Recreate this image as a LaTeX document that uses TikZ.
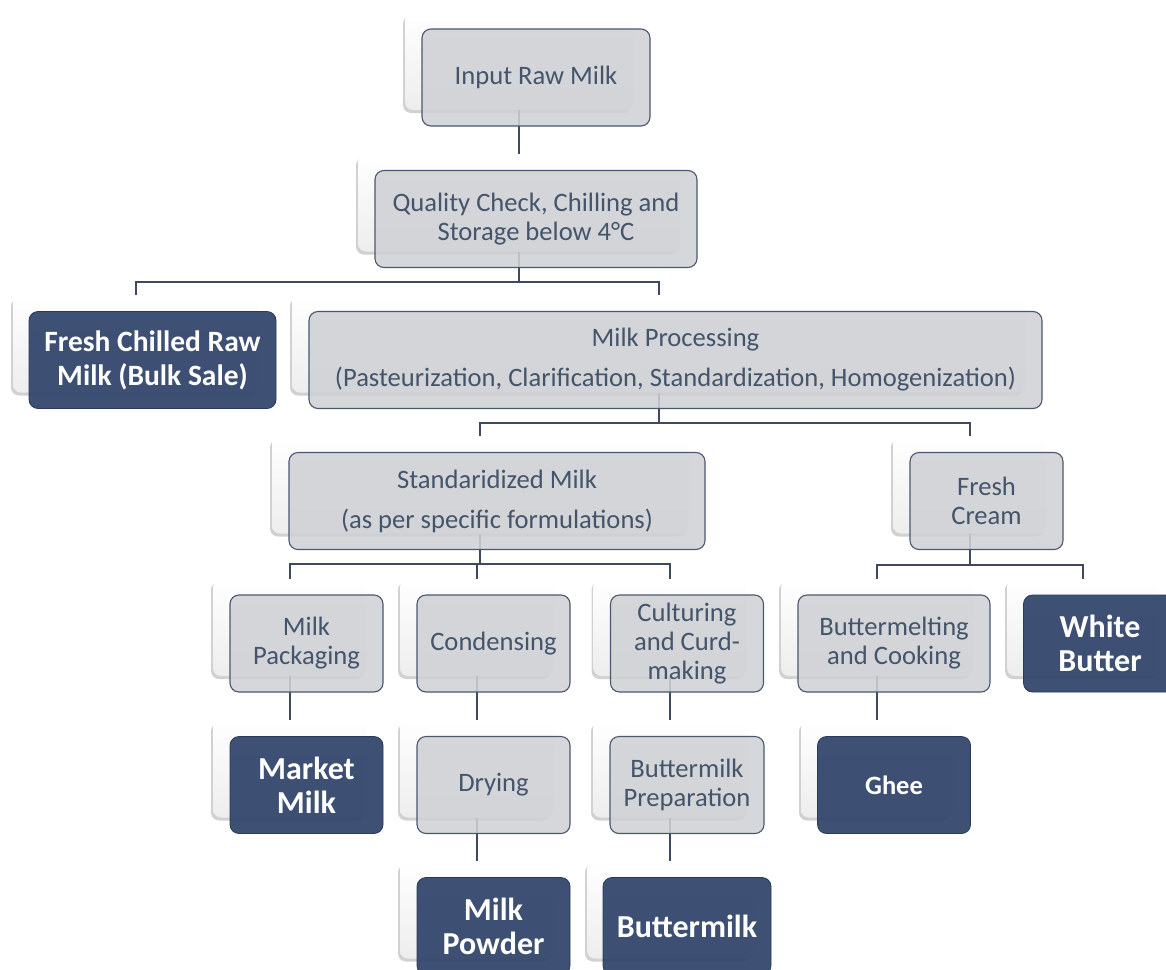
\documentclass[tikz,border=0pt]{standalone}
\usepackage{fontspec}
\setmainfont{Carlito}
\usetikzlibrary{shadows}
\definecolor{cardfill}{HTML}{CFD1D5}
\definecolor{cardline}{HTML}{4A586E}
\definecolor{navyfill}{HTML}{34476D}
\definecolor{txtgrey}{HTML}{44546A}
\definecolor{conn}{HTML}{3D4A5E}
\tikzset{
 backcard/.style={rounded corners=8pt, minimum height=97pt, inner sep=0pt, top color=white, bottom color=black!7, draw=none,
   drop shadow={shadow xshift=-2pt, shadow yshift=-3pt, opacity=0.3, fill=black!60}},
 greybox/.style={rounded corners=9pt, minimum height=97pt, inner sep=0pt, fill=cardfill, fill opacity=0.88, text opacity=1,
   draw=cardline, line width=1.1pt, text=txtgrey, align=center, font=\fontsize{26.6}{29}\selectfont},
 navybox/.style={rounded corners=9pt, minimum height=97pt, inner sep=0pt, fill=navyfill, fill opacity=0.95, text opacity=1,
   draw=navyfill!80!black, line width=0.8pt, text=white, align=center, font=\bfseries\fontsize{32}{34}\selectfont},
 link/.style={draw=conn, line width=2pt},
}
\begin{document}
\begin{tikzpicture}[x=1pt,y=-1pt]
\useasboundingbox (0,0) rectangle (1166,969);
\clip (0,0) rectangle (1166,969);
% back cards
\node[backcard, minimum width=228pt] (inb) at (519,61.5) {};
\node[backcard, minimum width=322pt] (qcb) at (519,203) {};
\node[backcard, minimum width=245pt] (fcb) at (135.5,344) {};
\node[backcard, minimum width=733pt] (mpb) at (658.5,344) {};
\node[backcard, minimum width=416pt] (smb) at (480,485) {};
\node[backcard, minimum width=153pt] (crb) at (969.5,485) {};
\node[backcard, minimum width=153pt] (pkb) at (289.5,627.5) {};
\node[backcard, minimum width=153pt] (cdb) at (476.5,627.5) {};
\node[backcard, minimum width=153pt] (cub) at (670,627.5) {};
\node[backcard, minimum width=192pt] (bmb) at (877,627.5) {};
\node[backcard, minimum width=152pt] (wbb) at (1083,627.5) {};
\node[backcard, minimum width=153pt] (mmb) at (289.5,769) {};
\node[backcard, minimum width=153pt] (drb) at (476.5,769) {};
\node[backcard, minimum width=154pt] (bpb) at (670,769) {};
\node[backcard, minimum width=152pt] (ghb) at (877,769) {};
\node[backcard, minimum width=153pt] (pob) at (476.5,910) {};
\node[backcard, minimum width=166pt] (bub) at (670,910) {};
% connectors
\coordinate (j1) at (519,282);
\coordinate (j2) at (658.5,423);
\coordinate (j3) at (480,564);
\coordinate (j4) at (969.5,565);
\draw[link] (inb.south) -- (qcb.north);
\draw[link] (qcb.south) -- (j1) -| (fcb.north);
\draw[link] (j1) -| (mpb.north);
\draw[link] (mpb.south) -- (j2) -| (smb.north);
\draw[link] (j2) -| (crb.north);
\draw[link] (smb.south) -- (j3) -| (pkb.north);
\draw[link] (j3) -| (cdb.north);
\draw[link] (j3) -| (cub.north);
\draw[link] (crb.south) -- (j4) -| (bmb.north);
\draw[link] (j4) -| (wbb.north);
\draw[link] (pkb.south) -- (mmb.north);
\draw[link] (cdb.south) -- (drb.north);
\draw[link] (cub.south) -- (bpb.north);
\draw[link] (bmb.south) -- (ghb.north);
\draw[link] (drb.south) -- (pob.north);
\draw[link] (bpb.south) -- (bub.north);
% front boxes
\node[greybox, minimum width=228pt] (in) at ([shift={(17,16)}]inb.center) {Input Raw Milk};
\node[greybox, minimum width=322pt] (qc) at ([shift={(17,16)}]qcb.center) {Quality Check, Chilling and\\Storage below 4°C};
\node[navybox, minimum width=247pt, font=\bfseries\fontsize{29.5}{34}\selectfont] (fc) at ([shift={(17,16)}]fcb.center) {Fresh Chilled Raw\\Milk (Bulk Sale)};
\node[greybox, minimum width=733pt] (mp) at ([shift={(17,16)}]mpb.center) {Milk Processing\\[11pt](Pasteurization, Clarification, Standardization, Homogenization)};
\node[greybox, minimum width=416pt] (sm) at ([shift={(17,16)}]smb.center) {Standaridized Milk\\[11pt](as per specific formulations)};
\node[greybox, minimum width=153pt] (cr) at ([shift={(17,16)}]crb.center) {Fresh\\Cream};
\node[greybox, minimum width=153pt] (pk) at ([shift={(17,16)}]pkb.center) {Milk\\Packaging};
\node[greybox, minimum width=153pt] (cd) at ([shift={(17,16)}]cdb.center) {Condensing};
\node[greybox, minimum width=153pt] (cu) at ([shift={(17,16)}]cub.center) {Culturing\\and Curd-\\making};
\node[greybox, minimum width=192pt] (bm) at ([shift={(17,16)}]bmb.center) {Buttermelting\\and Cooking};
\node[navybox, minimum width=153pt] (wb) at ([shift={(17,16)}]wbb.center) {White\\Butter};
\node[navybox, minimum width=153pt] (mm) at ([shift={(17,16)}]mmb.center) {Market\\Milk};
\node[greybox, minimum width=153pt] (dr) at ([shift={(17,16)}]drb.center) {Drying};
\node[greybox, minimum width=154pt] (bp) at ([shift={(17,16)}]bpb.center) {Buttermilk\\Preparation};
\node[navybox, minimum width=153pt, font=\bfseries\fontsize{26.5}{30}\selectfont] (gh) at ([shift={(17,16)}]ghb.center) {Ghee};
\node[navybox, minimum width=153pt] (po) at ([shift={(17,16)}]pob.center) {Milk\\Powder};
\node[navybox, minimum width=168pt] (bu) at ([shift={(17,16)}]bub.center) {Buttermilk};
\end{tikzpicture}
\end{document}
